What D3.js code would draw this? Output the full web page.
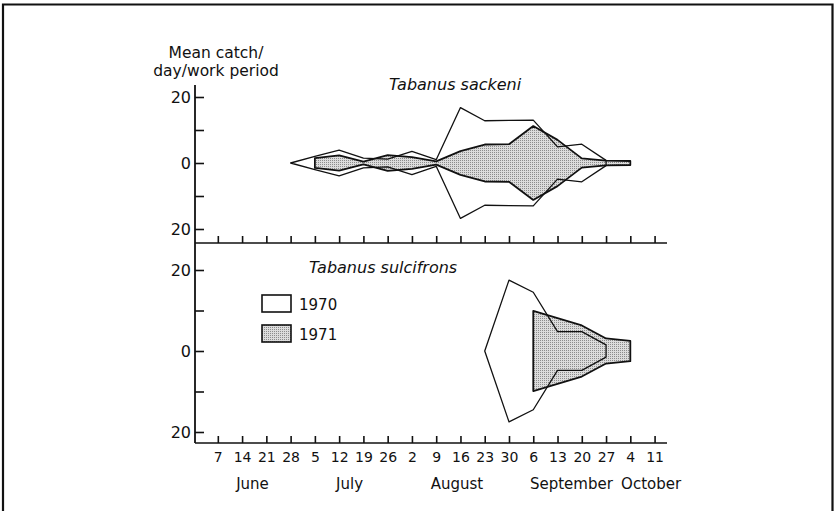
<!DOCTYPE html>
<html>
<head>
<meta charset="utf-8">
<script src="https://cdn.jsdelivr.net/npm/d3@7"></script>
<style>
    body { margin: 0; background: #fff; }
    text { font-family: "DejaVu Sans", sans-serif; fill: #111; }
    .axis line, .axis path { stroke: #111; stroke-width: 1.6; }
</style>
</head>
<body>
<div id="chart"></div>
<script>
// Week ticks and labels
var tickDates = ["1970-06-07", "1970-06-14", "1970-06-21", "1970-06-28", "1970-07-05", "1970-07-12",
    "1970-07-19", "1970-07-26", "1970-08-02", "1970-08-09", "1970-08-16", "1970-08-23", "1970-08-30",
    "1970-09-06", "1970-09-13", "1970-09-20", "1970-09-27", "1970-10-04", "1970-10-11"];
var tickLbls = ["7", "14", "21", "28", "5", "12", "19", "26", "2", "9", "16", "23", "30", "6", "13", "20", "27", "4", "11"];

// Month labels and where they sit
var months = ["June", "July", "August", "September", "October"];
var monthDates = ["1970-06-17", "1970-07-15", "1970-08-15", "1970-09-17", "1970-10-10"];

// Tabanus sackeni
var sackDates70 = ["1970-06-28", "1970-07-05", "1970-07-12", "1970-07-19", "1970-07-26", "1970-08-02", "1970-08-09",
    "1970-08-16", "1970-08-23", "1970-08-30", "1970-09-06", "1970-09-13", "1970-09-20", "1970-09-27"];
var sack70 = [0, 2.0, 3.9, 1.5, 1.2, 3.5, 1.0, 16.8, 12.8, 12.9, 13.0, 4.9, 5.7, 0.8];
var sackDates71 = ["1970-07-05", "1970-07-12", "1970-07-19", "1970-07-26", "1970-08-02", "1970-08-09", "1970-08-16",
    "1970-08-23", "1970-08-30", "1970-09-06", "1970-09-13", "1970-09-20", "1970-09-27", "1970-10-04"];
var sack71 = [1.5, 2.3, 0.4, 2.4, 1.8, 0.5, 3.6, 5.6, 5.7, 11.2, 7.0, 1.4, 0.7, 0.6];

// Tabanus sulcifrons
var sulcDates70 = ["1970-08-23", "1970-08-30", "1970-09-06", "1970-09-13", "1970-09-20", "1970-09-27"];
var sulc70 = [0, 17.5, 14.5, 4.8, 4.8, 1.5];
var sulcDates71 = ["1970-09-06", "1970-09-13", "1970-09-20", "1970-09-27", "1970-10-04"];
var sulc71 = [9.9, 8.1, 6.3, 3.1, 2.5];

var yTicks = [-20, -10, 0, 10, 20];

// Set up SVG params
var svgHgt = 511;
var svgWdt = 835;

var parse = d3.timeParse("%Y-%m-%d %H:%M");
function day(s) { return parse(s.length > 10 ? s : s + " 00:00"); }

var svg = d3.select("#chart").append("svg")
    .attr("height", svgHgt)
    .attr("width", svgWdt);

// Stipple pattern for 1971
var pat = svg.append("defs").append("pattern")
    .attr("id", "stip")
    .attr("patternUnits", "userSpaceOnUse")
    .attr("width", 2)
    .attr("height", 2);
pat.append("rect").attr("width", 2).attr("height", 2).attr("fill", "#dcdcdc");
pat.append("rect").attr("width", 1).attr("height", 1).attr("fill", "#8c8c8c");

// Outer frame (open at bottom)
svg.append("path")
    .attr("d", "M3,512 V4.5 H832.5 V512")
    .attr("fill", "none")
    .attr("stroke", "#111")
    .attr("stroke-width", 2.2);

// Scales
var x = d3.scaleTime()
    .domain([day("1970-05-31 10:00"), day("1970-10-14 14:00")])
    .range([195, 667]);
var yTop = d3.scaleLinear().domain([-20, 20]).range([229, 97]);
var yBot = d3.scaleLinear().domain([-20, 20]).range([432, 270]);

var topAxisY = 243;
var botAxisY = 443;
var yAxisTop = 85;

// Helper to turn arrays into rows
function rows(dates, vals) {
    return dates.map((d, i) => ({date: day(d), v: vals[i]}));
}

function band(yScale) {
    return d3.area()
        .x(d => x(d.date))
        .y0(d => yScale(-d.v))
        .y1(d => yScale(d.v));
}

// Draw one panel: 1971 stippled first, 1970 outline on top
function drawPanel(yScale, d70, d71) {
    svg.append("path")
        .datum(d71)
        .attr("d", band(yScale))
        .attr("fill", "url(#stip)")
        .attr("stroke", "#111")
        .attr("stroke-width", 1.8)
        .attr("stroke-linejoin", "round");
    svg.append("path")
        .datum(d70)
        .attr("d", band(yScale))
        .attr("fill", "none")
        .attr("stroke", "#111")
        .attr("stroke-width", 1.3)
        .attr("stroke-linejoin", "round");
}

drawPanel(yTop, rows(sackDates70, sack70), rows(sackDates71, sack71));
drawPanel(yBot, rows(sulcDates70, sulc70), rows(sulcDates71, sulc71));

// X axes (ticks point up)
var tickVals = tickDates.map(day);
var botRule = d3.axisBottom(x)
    .tickValues(tickVals)
    .tickSize(-7)
    .tickPadding(9)
    .tickFormat((d, i) => tickLbls[i]);

var topX = svg.append("g").attr("class", "axis")
    .attr("transform", `translate(0, ${topAxisY})`)
    .call(botRule.tickFormat(""));
var botX = svg.append("g").attr("class", "axis")
    .attr("transform", `translate(0, ${botAxisY})`)
    .call(botRule.tickFormat((d, i) => tickLbls[i]));

[topX, botX].forEach(g => {
    g.select(".domain").remove();
    g.append("line")
        .attr("x1", x.range()[0]).attr("x2", x.range()[1])
        .attr("y1", 0).attr("y2", 0);
});
botX.selectAll("text").style("font-size", "14px").attr("fill", "#111");

// Y axes (ticks point right)
function yRule(scale) {
    return d3.axisLeft(scale)
        .tickValues(yTicks)
        .tickSize(-9)
        .tickPadding(4)
        .tickFormat(d => d % 20 === 0 ? Math.abs(d) : "");
}
[yTop, yBot].forEach(s => {
    var g = svg.append("g").attr("class", "axis")
        .attr("transform", `translate(${x.range()[0]}, 0)`)
        .call(yRule(s));
    g.select(".domain").remove();
    g.selectAll("text").style("font-size", "16px").attr("fill", "#111");
});
svg.append("line")
    .attr("x1", x.range()[0]).attr("x2", x.range()[0])
    .attr("y1", yAxisTop).attr("y2", botAxisY)
    .attr("stroke", "#111")
    .attr("stroke-width", 1.8);

// Month labels
svg.selectAll(".month").data(months)
    .enter()
    .append("text")
        .attr("class", "month")
        .attr("x", (d, i) => x(day(monthDates[i])))
        .attr("y", 489)
        .attr("text-anchor", "middle")
        .style("font-size", "15px")
        .text(d => d);

// Y axis title
svg.append("text")
    .attr("x", 216).attr("y", 58)
    .attr("text-anchor", "middle")
    .style("font-size", "15.5px")
    .text("Mean catch/");
svg.append("text")
    .attr("x", 216).attr("y", 76)
    .attr("text-anchor", "middle")
    .style("font-size", "15.5px")
    .text("day/work period");

// Species titles
svg.append("text")
    .attr("x", 389).attr("y", 90)
    .style("font-size", "16px")
    .style("font-style", "italic")
    .text("Tabanus sackeni");
svg.append("text")
    .attr("x", 309).attr("y", 273)
    .style("font-size", "16px")
    .style("font-style", "italic")
    .text("Tabanus sulcifrons");

// Legend
var years = ["1970", "1971"];
var legFill = ["#fff", "url(#stip)"];
var leg = svg.append("g").attr("transform", "translate(262, 295)");
leg.selectAll("rect").data(years)
    .enter()
    .append("rect")
        .attr("x", 0)
        .attr("y", (d, i) => i * 30)
        .attr("width", 29)
        .attr("height", 17)
        .attr("fill", (d, i) => legFill[i])
        .attr("stroke", "#111")
        .attr("stroke-width", 1.6);
leg.selectAll("text").data(years)
    .enter()
    .append("text")
        .attr("x", 37)
        .attr("y", (d, i) => i * 30 + 15)
        .style("font-size", "15px")
        .text(d => d);
</script>
</body>
</html>
